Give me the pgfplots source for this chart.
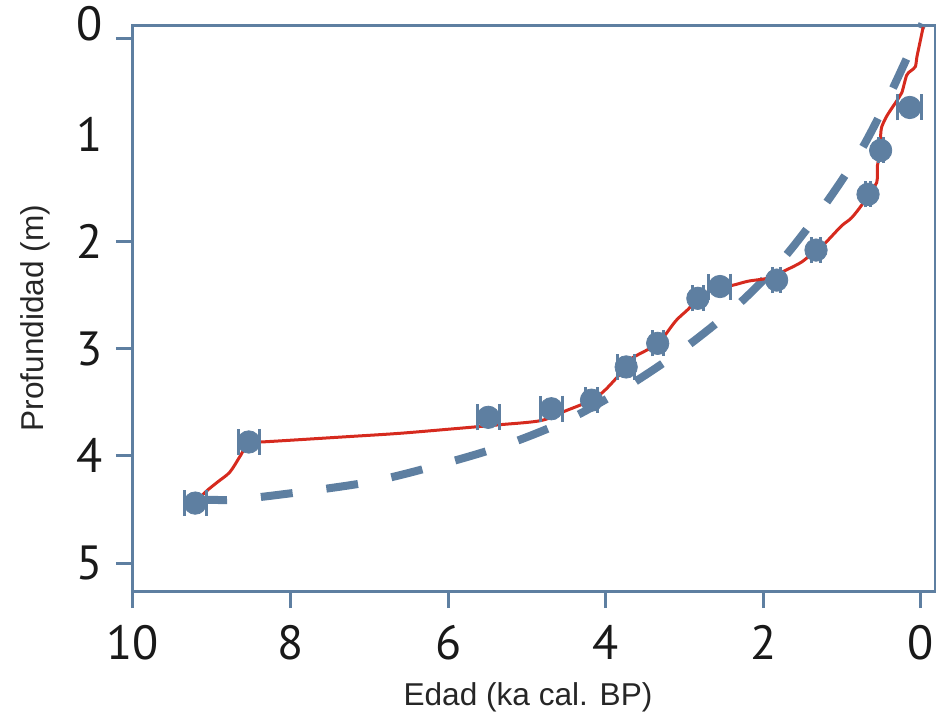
\documentclass[border=0pt]{standalone}
\usepackage{fontspec}
\setmainfont{Liberation Sans}
\newfontfamily\tickfont{PT Sans}
\usepackage{pgfplots}
\pgfplotsset{compat=1.18}
\usepackage{pgfplotstable}
\definecolor{bg}{RGB}{94,127,161}
\definecolor{rl}{RGB}{214,42,30}

\pgfplotstableread{
age depth err
0.14 0.75 0.15
0.51 1.15 0.03
0.67 1.56 0.03
1.33 2.08 0.06
1.83 2.36 0.05
2.55 2.42 0.14
2.83 2.53 0.07
3.34 2.95 0.07
3.74 3.17 0.11
4.18 3.48 0.07
4.69 3.56 0.14
5.49 3.64 0.14
8.53 3.87 0.13
9.21 4.44 0.14
}\dates

\pgfplotstableread{
age depth
-0.03 0.00
0.01 0.14
0.05 0.28
0.07 0.37
0.13 0.41
0.18 0.45
0.24 0.61
0.28 0.66
0.38 0.77
0.44 0.84
0.50 0.94
0.51 1.03
0.51 1.15
0.55 1.29
0.56 1.45
0.67 1.56
0.75 1.66
0.88 1.78
1.00 1.85
1.13 1.95
1.26 2.05
1.33 2.08
1.51 2.19
1.72 2.27
1.93 2.34
2.19 2.37
2.40 2.41
2.57 2.42
2.83 2.53
2.95 2.63
3.11 2.74
3.34 2.95
3.67 3.09
3.74 3.17
4.00 3.38
4.18 3.48
4.51 3.58
4.82 3.67
5.36 3.71
5.98 3.75
6.63 3.79
7.27 3.82
8.37 3.87
8.53 3.87
8.63 3.99
8.77 4.15
8.92 4.24
9.07 4.33
9.21 4.44
}\redcurve

\pgfplotstableread{
age depth
9.21 4.43
9.05 4.41
8.58 4.40
7.05 4.25
6.00 4.06
5.24 3.89
4.47 3.66
3.74 3.36
3.01 3.00
2.35 2.61
1.77 2.18
1.23 1.67
0.76 1.15
0.38 0.61
-0.02 -0.03
}\model

\begin{document}
\begin{tikzpicture}
\useasboundingbox (-66.5pt,-60.5pt) rectangle (401.5pt,295.5pt);
\begin{axis}[
  scale only axis,
  width=401pt, height=282.5pt,
  x dir=reverse, y dir=reverse,
  xmin=-0.18, xmax=10, ymin=-0.01, ymax=5.26,
  xtick={0,2,4,6,8,10},
  ytick={0.11,2,3,4,5},
  yticklabels={,2,3,4,5},
  extra y ticks={0,1},
  extra y tick labels={\raisebox{4pt}{0},1},
  extra y tick style={major tick style={draw=none}},
  axis line style={bg, line width=1.5pt},
  tick style={bg, line width=1.5pt},
  major tick length=8.5pt,
  tick align=outside,
  xtick pos=bottom, ytick pos=left,
  /pgf/number format/assume math mode=true,
  ticklabel style={font=\tickfont\fontsize{24}{24}\selectfont, text=black!90},
  xticklabel style={yshift=-5pt},
  yticklabel style={xshift=-3pt},
  xlabel={Edad (ka cal. BP)},
  ylabel={Profundidad (m)},
  label style={font=\fontsize{15.8}{16}\selectfont, text=black!85},
  xlabel style={at={(axis description cs:0.4925,-0.2018)}, anchor=base},
  ylabel style={at={(axis description cs:-0.111,0.483)}, anchor=base},
  clip=false,
]
\addplot[bg, line width=4pt, dash pattern=on 16pt off 17pt, smooth] table[x=age,y=depth]{\model};
\addplot[rl, line width=1.5pt, smooth, tension=0.5] table[x=age,y=depth]{\redcurve};
\addplot[bg, only marks, mark=*, mark size=5.6pt, mark options={fill=bg, draw=bg},
  error bars/.cd, x dir=both, x explicit, error mark=|,
  error bar style={bg, line width=1.5pt},
  error mark options={bg, line width=1.5pt, mark size=6.5pt}]
  table[x=age, y=depth, x error=err]{\dates};
\end{axis}
\end{tikzpicture}
\end{document}
